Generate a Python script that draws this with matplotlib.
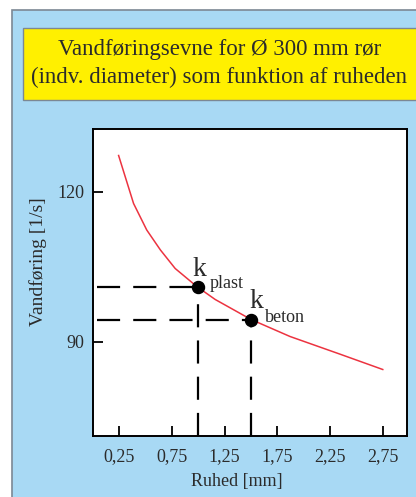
import matplotlib.pyplot as plt
from matplotlib.patches import Rectangle

# roughness [mm] and discharge [l/s]
ruhed = [0.243, 0.385, 0.51, 0.64, 0.78, 0.985, 1.16, 1.5, 1.87, 2.34, 2.75]
vandforing = [127.3, 117.7, 112.4, 108.4, 104.7, 101.1, 98.5, 94.5, 91.1, 87.6, 84.5]

k_names = ["plast", "beton"]
k_ruhed = [1.0, 1.5]
k_vand = [101.0, 94.5]

xticks = [0.25, 0.75, 1.25, 1.75, 2.25, 2.75]
xticklabels = ["0,25", "0,75", "1,25", "1,75", "2,25", "2,75"]
yticks = [90, 120]

BLUE = "#a8d9f4"
YELLOW = "#fff000"
BORDER = "#7c8894"
TXT = "#2b2b2b"
SERIF = ["Liberation Serif", "DejaVu Serif"]

plt.rcParams["font.family"] = SERIF

fig = plt.figure(figsize=(4.16, 4.97), dpi=100)

# blue panel and yellow title box
fig.patches.append(Rectangle((12 / 416, -0.01), 1.0, 1 - 10 / 497 + 0.01,
                             transform=fig.transFigure, facecolor=BLUE,
                             edgecolor=BORDER, lw=1.2, zorder=-2))
fig.patches.append(Rectangle((23 / 416, 1 - 100 / 497), 1.0, 72 / 497,
                             transform=fig.transFigure, facecolor=YELLOW,
                             edgecolor=BORDER, lw=1.0, zorder=-1))
fig.text(0.527, 1 - 50 / 497, "Vandføringsevne for Ø 300 mm rør",
         ha="center", va="center", fontsize=16.5, color=TXT)
fig.text(0.527, 1 - 77 / 497, "(indv. diameter) som funktion af ruheden",
         ha="center", va="center", fontsize=16.5, color=TXT)

ax = fig.add_axes([93 / 416, 1 - 436 / 497, 314 / 416, 307 / 497])
ax.set_zorder(2)
ax.set_facecolor("white")
ax.set_xlim(0, 2.98)
ax.set_ylim(71.2, 132.6)

ax.plot(ruhed, vandforing, color="#ec3340", lw=1.1, zorder=3)

# dashed guide lines (dash ~23 px, gap ~13 px)
ymin = ax.get_ylim()[0]
for xk, yk in zip(k_ruhed, k_vand):
    ax.plot([0.04, xk], [yk, yk], color="black", lw=1.6,
            dashes=(10.4, 5.9), zorder=2)
    ax.plot([xk, xk], [ymin, yk], color="black", lw=1.6,
            dashes=(10.4, 5.9), zorder=2)
ax.scatter(k_ruhed, k_vand, s=75, color="black", zorder=4)

offsets = [((-6, 11), (11, -1)), ((-2, 12), (14, -3))]
for name, xk, yk, (o1, o2) in zip(k_names, k_ruhed, k_vand, offsets):
    ax.annotate("k", (xk, yk), xytext=o1, textcoords="offset pixels",
                fontsize=20, color=TXT, va="baseline", ha="left")
    ax.annotate(name, (xk, yk), xytext=o2, textcoords="offset pixels",
                fontsize=13, color=TXT, va="baseline", ha="left")

ax.set_xticks(xticks)
ax.set_xticklabels(xticklabels)
ax.set_yticks(yticks)
ax.tick_params(direction="in", length=7, width=1.3, colors="black",
               labelcolor=TXT, labelsize=13)
ax.tick_params(axis="x", pad=9)
ax.tick_params(axis="y", pad=6)
for s in ax.spines.values():
    s.set_linewidth(1.4)

ax.set_xlabel("Ruhed [mm]", fontsize=13, color=TXT)
ax.set_ylabel("Vandføring [1/s]", fontsize=14, color=TXT)
ax.xaxis.set_label_coords(0.458, -0.12)
ax.yaxis.set_label_coords(-0.148, 0.567)

fig.savefig("out.png", dpi=100)
